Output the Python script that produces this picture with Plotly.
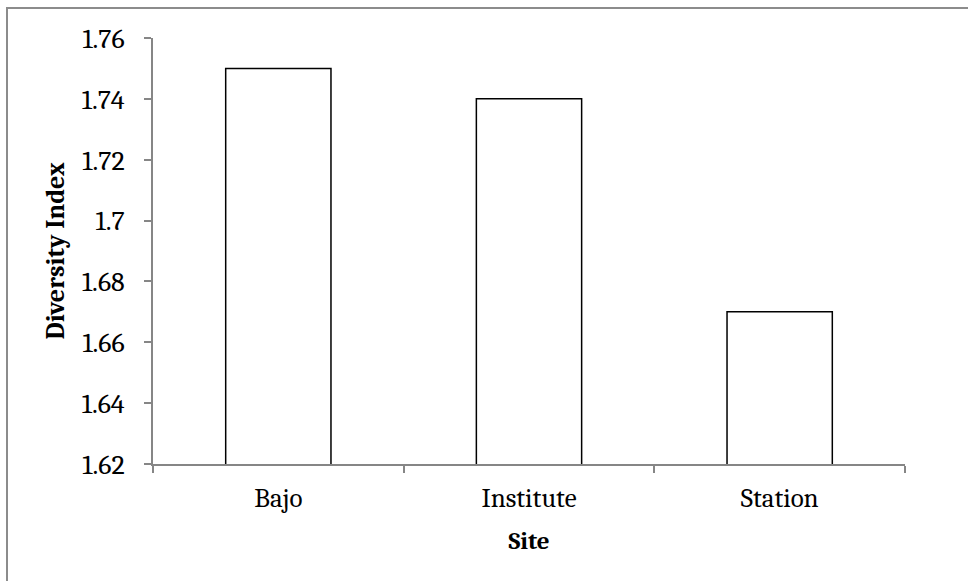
import plotly.graph_objects as go

# Shannon diversity index per sampling site
sites = ["Bajo", "Institute", "Station"]
diversity = [1.75, 1.74, 1.67]
y_ticks = [1.62, 1.64, 1.66, 1.68, 1.70, 1.72, 1.74, 1.76]
y_tick_text = ["1.62", "1.64", "1.66", "1.68", "1.7", "1.72", "1.74", "1.76"]

W, H = 968, 581
ML, MR, MT, MB = 153, 63, 38, 117
PW, PH = W - ML - MR, H - MT - MB

serif = "Cambria, Caladea, 'Liberation Serif', 'DejaVu Serif', serif"
axis_grey = "#868686"

fig = go.Figure(
    go.Bar(
        x=sites,
        y=diversity,
        base=0,
        marker=dict(color="white", line=dict(color="black", width=1.5)),
    )
)

fig.update_layout(
    width=W,
    height=H,
    margin=dict(l=ML, r=MR, t=MT, b=MB),
    paper_bgcolor="white",
    plot_bgcolor="white",
    bargap=0.58,
    showlegend=False,
    font=dict(family=serif, size=28, color="black"),
    xaxis=dict(
        title=dict(text="<b>Site</b>", font=dict(size=25), standoff=18),
        showline=True,
        linecolor=axis_grey,
        linewidth=1.5,
        ticks="outside",
        tickson="boundaries",
        ticklen=7,
        tickcolor=axis_grey,
        tickwidth=1.5,
        showgrid=False,
        tickfont=dict(size=27),
        ticklabelstandoff=9,
    ),
    yaxis=dict(
        title=dict(text="<b>Diversity Index</b>", font=dict(size=26), standoff=10),
        range=[1.62, 1.76],
        tickvals=y_ticks,
        ticktext=y_tick_text,
        showline=True,
        linecolor=axis_grey,
        linewidth=1.5,
        ticks="outside",
        ticklen=7,
        tickcolor=axis_grey,
        tickwidth=1.5,
        showgrid=False,
        zeroline=False,
        tickfont=dict(size=28),
        ticklabelstandoff=14,
    ),
)

# Chart-area frame (top and left edges lie inside the page)
fig.add_shape(
    type="rect",
    xref="paper",
    yref="paper",
    x0=(7 - ML) / PW,
    x1=2,
    y0=-2,
    y1=(H - MB - 8) / PH,
    line=dict(color="#8c8c8c", width=2),
    fillcolor="rgba(0,0,0,0)",
    layer="below",
)

fig.write_html("out.html")
